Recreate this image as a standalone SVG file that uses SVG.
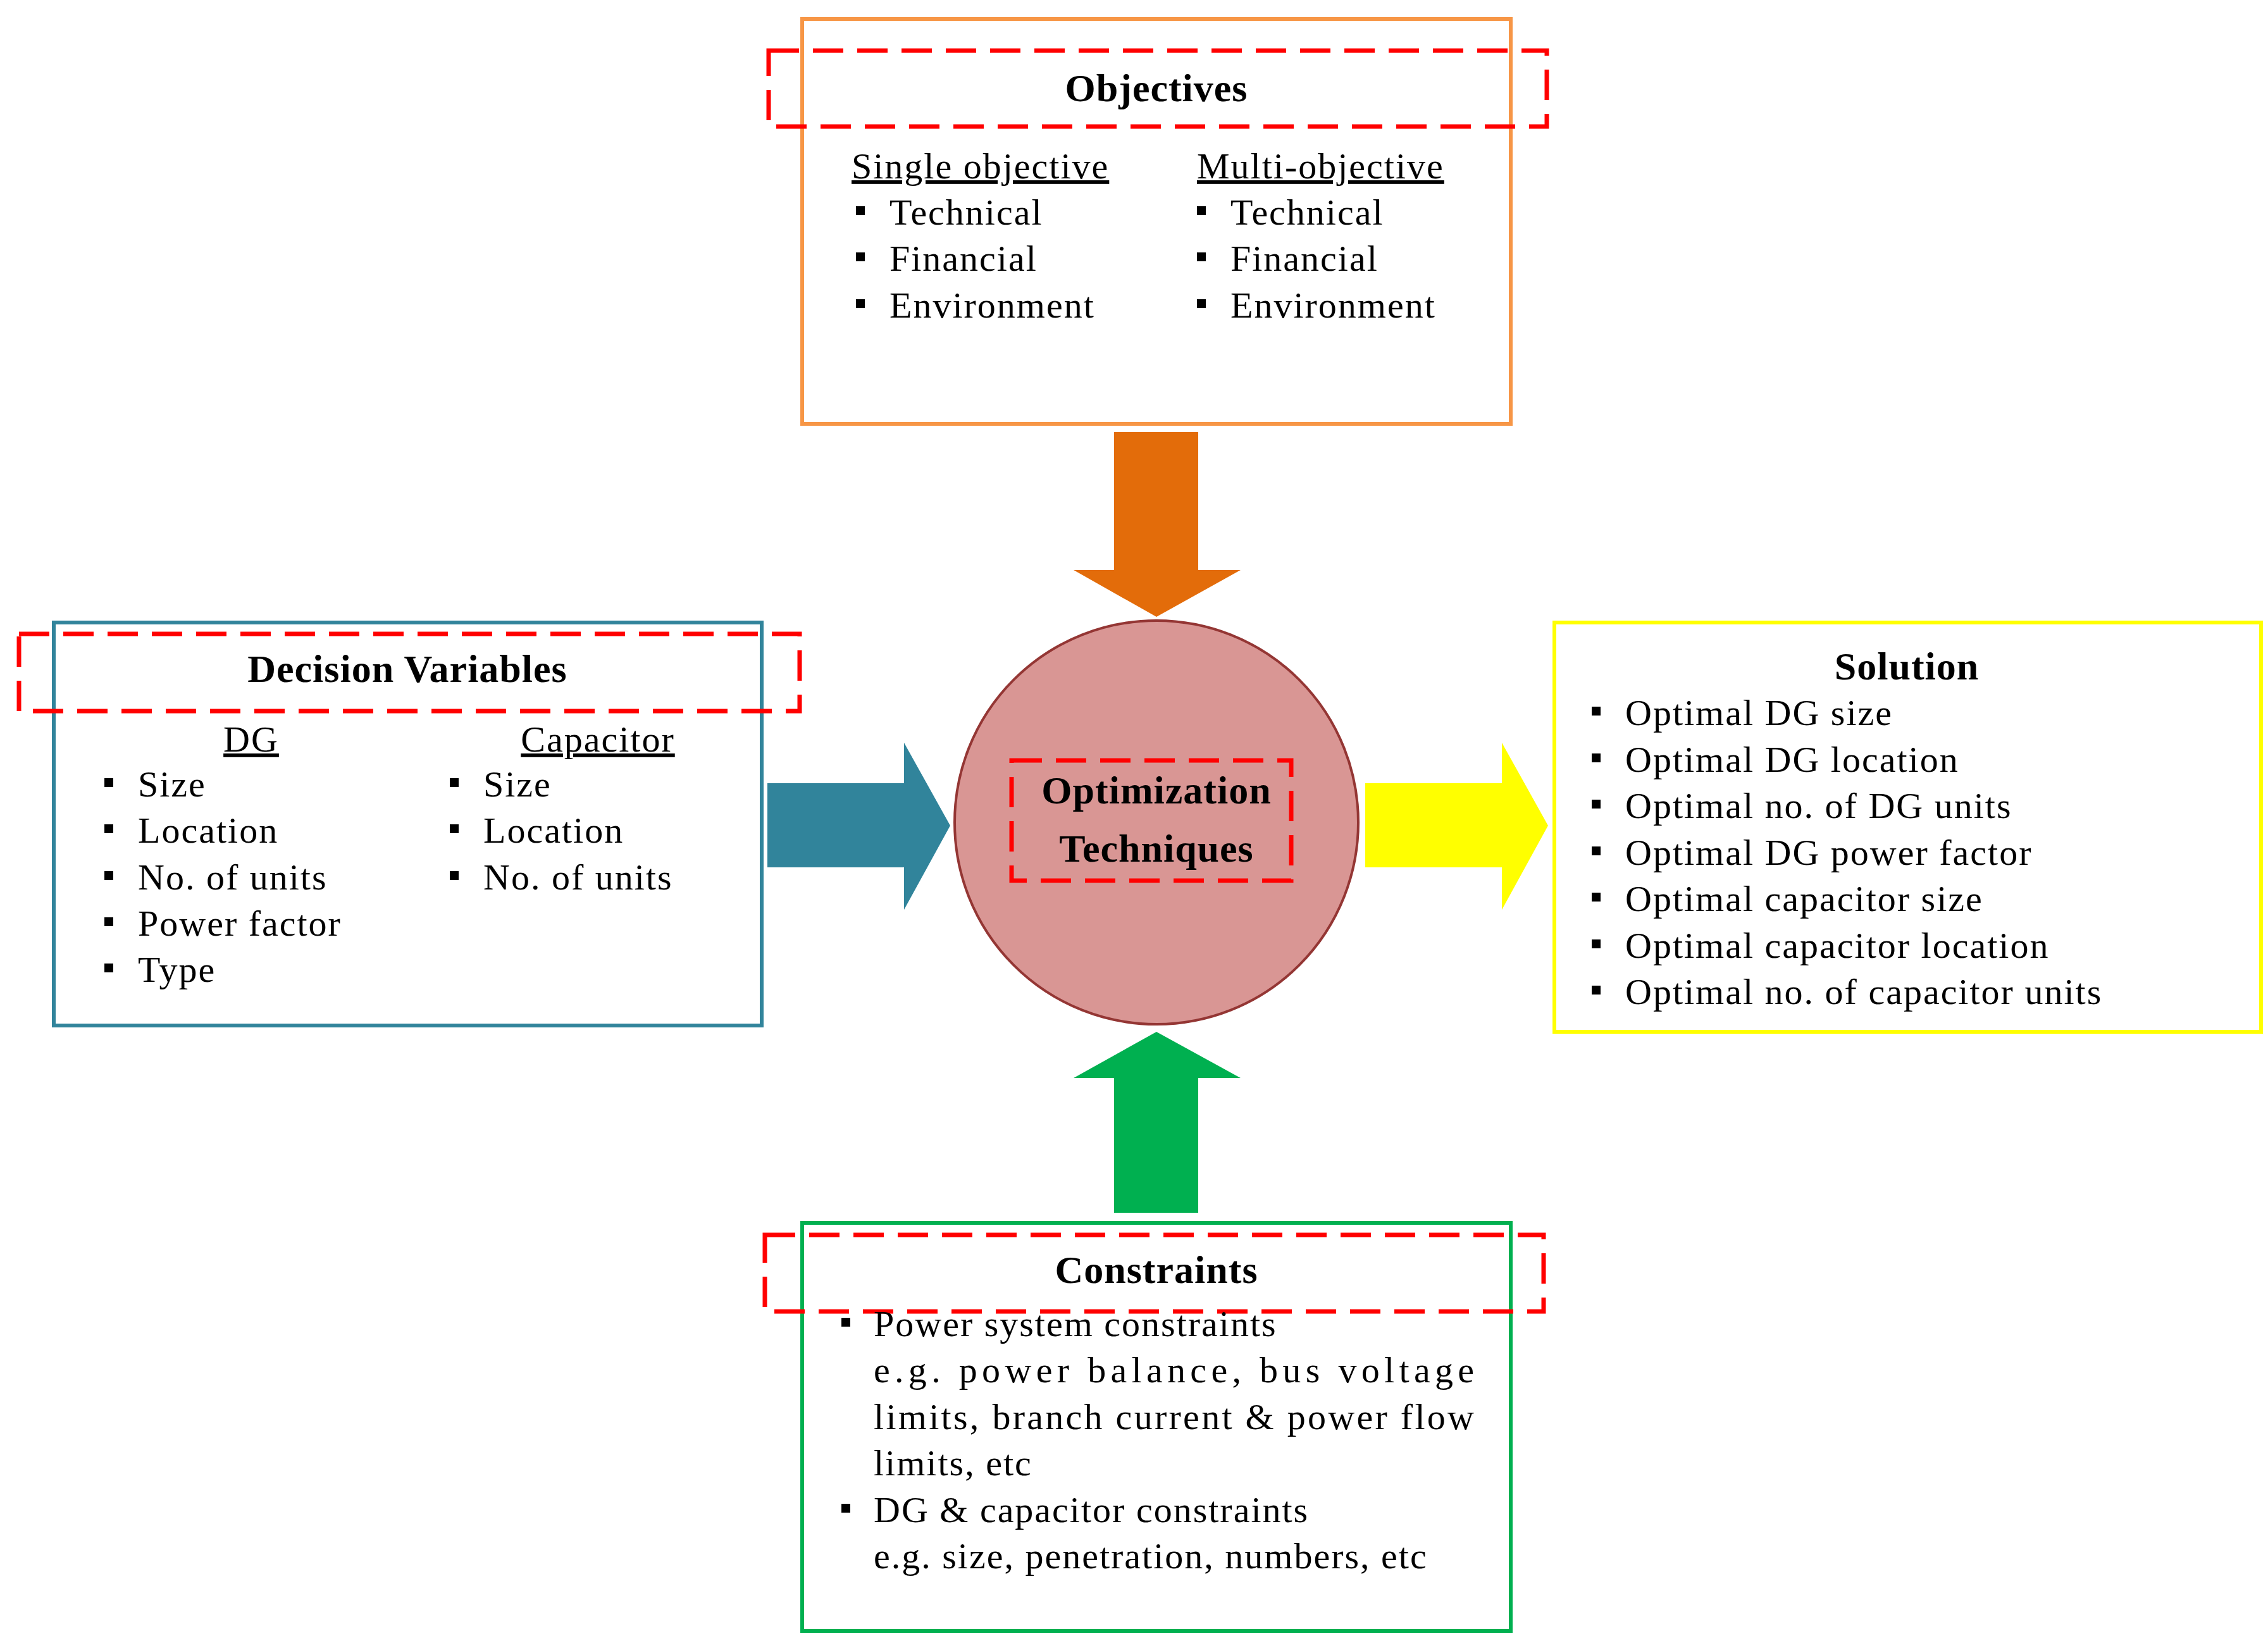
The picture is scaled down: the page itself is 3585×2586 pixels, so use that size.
<svg xmlns="http://www.w3.org/2000/svg" width="3585" height="2586" viewBox="0 0 3585 2586">
<style>
text{font-family:"Liberation Serif","Times New Roman",serif;font-size:58px;fill:#000;letter-spacing:2px}
.t{font-weight:bold;font-size:62px;text-anchor:middle;letter-spacing:1px}
.u{text-decoration:underline}
.c{text-anchor:middle}
.dash{fill:none;stroke:#ff0000;stroke-width:7;stroke-dasharray:48,22}
.b{fill:#000}
</style>
<rect width="3585" height="2586" fill="#fff"/>
<g id="connectors">
<polygon points="1761,683 1894,683 1894,901 1961,901 1828,975 1697,901 1761,901" fill="#e36c0a"/>
<polygon points="1213,1238 1429,1238 1429,1174 1502,1305 1429,1438 1429,1371 1213,1371" fill="#31849b"/>
<polygon points="2158,1238 2374,1238 2374,1174 2447,1305 2374,1438 2374,1371 2158,1371" fill="#ffff00"/>
<polygon points="1761,1917 1894,1917 1894,1704 1961,1704 1828,1631 1697,1704 1761,1704" fill="#00b050"/>
</g>
<g id="objectives">
<rect x="1268" y="30" width="1120" height="640" fill="#fff" stroke="#f79646" stroke-width="6"/>
<rect x="1215" y="80" width="1230" height="120" class="dash"/>
<text x="1828" y="160" class="t">Objectives</text>
<text x="1346" y="282" class="u">Single objective</text>
<text x="1892" y="282" class="u">Multi-objective</text>
<rect x="1353" y="326" width="14" height="14" class="b"/><text x="1406" y="355">Technical</text>
<rect x="1353" y="399" width="14" height="14" class="b"/><text x="1406" y="428">Financial</text>
<rect x="1353" y="473" width="14" height="14" class="b"/><text x="1406" y="502">Environment</text>
<rect x="1892" y="326" width="14" height="14" class="b"/><text x="1945" y="355">Technical</text>
<rect x="1892" y="399" width="14" height="14" class="b"/><text x="1945" y="428">Financial</text>
<rect x="1892" y="473" width="14" height="14" class="b"/><text x="1945" y="502">Environment</text>
</g>
<g id="optimization">
<circle cx="1828" cy="1300" r="319" fill="#d99694" stroke="#943634" stroke-width="4"/>
<rect x="1599" y="1202" width="442" height="190" class="dash"/>
<text x="1828" y="1270" class="t">Optimization</text>
<text x="1828" y="1362" class="t">Techniques</text>
</g>
<g id="decision">
<rect x="85" y="984" width="1119" height="637" fill="#fff" stroke="#31849b" stroke-width="6"/>
<rect x="30" y="1002" width="1234" height="122" class="dash"/>
<text x="644" y="1078" class="t">Decision Variables</text>
<text x="397" y="1188" class="u c">DG</text>
<text x="945" y="1188" class="u c">Capacitor</text>
<rect x="165" y="1230" width="14" height="14" class="b"/><text x="218" y="1259">Size</text>
<rect x="165" y="1303" width="14" height="14" class="b"/><text x="218" y="1332">Location</text>
<rect x="165" y="1377" width="14" height="14" class="b"/><text x="218" y="1406">No. of units</text>
<rect x="165" y="1450" width="14" height="14" class="b"/><text x="218" y="1479">Power factor</text>
<rect x="165" y="1523" width="14" height="14" class="b"/><text x="218" y="1552">Type</text>
<rect x="711" y="1230" width="14" height="14" class="b"/><text x="764" y="1259">Size</text>
<rect x="711" y="1303" width="14" height="14" class="b"/><text x="764" y="1332">Location</text>
<rect x="711" y="1377" width="14" height="14" class="b"/><text x="764" y="1406">No. of units</text>
</g>
<g id="solution">
<rect x="2457" y="984" width="1117" height="647" fill="#fff" stroke="#ffff00" stroke-width="6"/>
<text x="3014" y="1074" class="t">Solution</text>
<rect x="2516" y="1117" width="14" height="14" class="b"/><text x="2569" y="1146" letter-spacing="0">Optimal DG size</text>
<rect x="2516" y="1191" width="14" height="14" class="b"/><text x="2569" y="1220" letter-spacing="0">Optimal DG location</text>
<rect x="2516" y="1264" width="14" height="14" class="b"/><text x="2569" y="1293" letter-spacing="0">Optimal no. of DG units</text>
<rect x="2516" y="1338" width="14" height="14" class="b"/><text x="2569" y="1367" letter-spacing="0">Optimal DG power factor</text>
<rect x="2516" y="1411" width="14" height="14" class="b"/><text x="2569" y="1440" letter-spacing="0">Optimal capacitor size</text>
<rect x="2516" y="1485" width="14" height="14" class="b"/><text x="2569" y="1514" letter-spacing="0">Optimal capacitor location</text>
<rect x="2516" y="1558" width="14" height="14" class="b"/><text x="2569" y="1587" letter-spacing="0">Optimal no. of capacitor units</text>
</g>
<g id="constraints">
<rect x="1268" y="1933" width="1120" height="645" fill="#fff" stroke="#00b050" stroke-width="6"/>
<rect x="1209" y="1952" width="1231" height="121" class="dash"/>
<text x="1828" y="2028" class="t">Constraints</text>
<rect x="1330" y="2083" width="14" height="14" class="b"/><text x="1381" y="2112" letter-spacing="0">Power system constraints</text>
<text x="1381" y="2185" textLength="951" lengthAdjust="spacing" letter-spacing="0">e.g. power balance, bus voltage</text>
<text x="1381" y="2259" textLength="951" lengthAdjust="spacing" letter-spacing="0">limits, branch current &amp; power flow</text>
<text x="1381" y="2332" letter-spacing="0">limits, etc</text>
<rect x="1330" y="2377" width="14" height="14" class="b"/><text x="1381" y="2406" letter-spacing="0">DG &amp; capacitor constraints</text>
<text x="1381" y="2479" letter-spacing="0">e.g. size, penetration, numbers, etc</text>
</g>
</svg>
